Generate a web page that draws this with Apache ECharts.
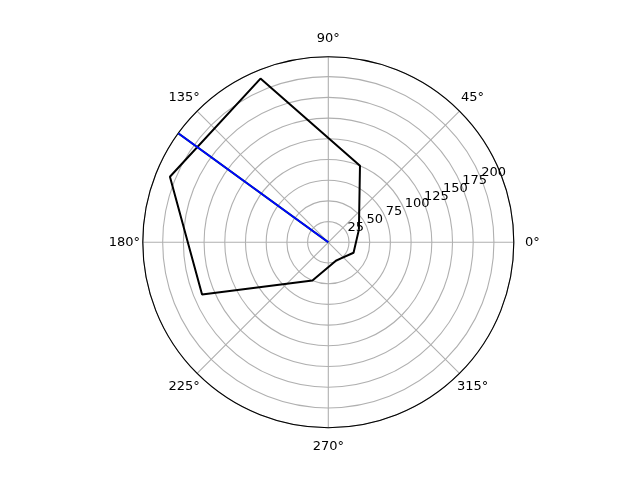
<!DOCTYPE html>
<html>
<head>
<meta charset="utf-8">
<script src="https://cdn.jsdelivr.net/npm/echarts@6/dist/echarts.min.js"></script>
<style>
html, body { margin: 0; padding: 0; background: #fff; }
#chart { width: 640px; height: 480px; }
</style>
</head>
<body>
<div id="chart"></div>
<script>
// directions (deg) and radii of the black outline
var directions = [22.5, 67.5, 112.5, 157.5, 202.5, 247.5, 292.5, 337.5];
var radii = [40, 100, 214, 207, 165, 50, 24, 33];
// the single ray (blue, with a green one underneath)
var rayAngle = 144;
var rayLength = [0, 224];
var rMax = 224;
// angle tick labels
var angleTicks = [0, 45, 90, 135, 180, 225, 270, 315];
var angleLabels = ['0°', '45°', '90°', '135°', '180°', '225°', '270°', '315°'];

var outline = [];
for (var i = 0; i < directions.length; i++) {
    outline.push([radii[i], directions[i]]);
}
outline.push([radii[0], directions[0]]); // close it

var ray = rayLength.map(function (r) { return [r, rayAngle]; });

// angle labels sit centred a bit outside the rim, like matplotlib does
var labelR = rMax * 204 / 185.5;
var angleLabelData = angleTicks.map(function (a, k) {
    return { value: [labelR, a], name: angleLabels[k] };
});

var font = 'DejaVu Sans';
var grid = { color: '#b0b0b0', width: 1.1 };

var chart = echarts.init(document.getElementById('chart'), null, { renderer: 'canvas' });
chart.setOption({
    animation: false,
    backgroundColor: '#fff',
    polar: [
        { center: [328.3, 242.3], radius: 185.5 },
        { center: [328.3, 242.3], radius: 185.5 }
    ],
    angleAxis: [
        {
            polarIndex: 0,
            type: 'value', min: 0, max: 360, interval: 45,
            startAngle: 0, clockwise: false,
            axisLine: { lineStyle: { color: '#000', width: 1.1 } },
            axisTick: { show: false },
            splitLine: { lineStyle: grid },
            axisLabel: { show: false }
        },
        {
            polarIndex: 1,
            type: 'value', min: 0, max: 360,
            startAngle: 22.5, clockwise: false,
            axisLine: { show: false }, axisTick: { show: false },
            splitLine: { show: false }, axisLabel: { show: false }
        }
    ],
    radiusAxis: [
        {
            polarIndex: 0,
            type: 'value', min: 0, max: rMax, interval: 25,
            axisLine: { show: false }, axisTick: { show: false },
            axisLabel: { show: false },
            splitLine: { lineStyle: grid }
        },
        {
            polarIndex: 1,
            type: 'value', min: 0, max: rMax, interval: 25,
            axisLine: { show: false }, axisTick: { show: false },
            splitLine: { show: false },
            axisLabel: {
                showMaxLabel: false, margin: 0, color: '#000',
                align: 'left', verticalAlign: 'bottom',
                fontFamily: font, fontSize: 13,
                formatter: function (v) { return v === 0 ? '' : v; }
            }
        }
    ],
    series: [
        {
            type: 'line', coordinateSystem: 'polar', polarIndex: 0,
            data: outline, symbol: 'none',
            lineStyle: { color: '#000', width: 2 }
        },
        {
            type: 'line', coordinateSystem: 'polar', polarIndex: 0,
            data: ray, symbol: 'none',
            lineStyle: { color: '#008000', width: 2 }
        },
        {
            type: 'line', coordinateSystem: 'polar', polarIndex: 0,
            data: ray, symbol: 'none',
            lineStyle: { color: '#0000ff', width: 2 }
        },
        {
            type: 'scatter', coordinateSystem: 'polar', polarIndex: 0,
            clip: false, silent: true,
            data: angleLabelData,
            symbol: 'circle', symbolSize: 1,
            itemStyle: { color: 'rgba(0,0,0,0)', opacity: 1 },
            label: {
                show: true, position: 'inside', color: '#000', opacity: 1,
                textBorderWidth: 0,
                fontFamily: font, fontSize: 13,
                formatter: function (p) { return p.name; }
            }
        }
    ]
});
</script>
</body>
</html>
